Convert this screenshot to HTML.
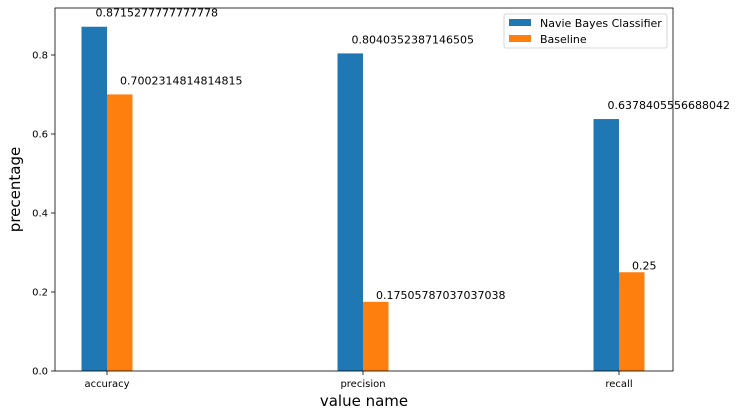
<!DOCTYPE html>
<html><head><meta charset="utf-8"><style>
html,body{margin:0;padding:0;background:#fff;}
svg{display:block;font-family:"DejaVu Sans","Liberation Sans",sans-serif;}
</style></head><body>
<svg id="chart" width="737" height="416"></svg>
<script>
const categories = ["accuracy","precision","recall"];
const nbValues = [0.8715277777777778,0.8040352387146505,0.6378405556688042];
const baseValues = [0.7002314814814815,0.17505787037037038,0.25];
const nbLabels = ["0.8715277777777778","0.8040352387146505","0.6378405556688042"];
const baseLabels = ["0.7002314814814815","0.17505787037037038","0.25"];
const yTicks = [0.0,0.2,0.4,0.6,0.8];
const yTickLabels = ["0.0","0.2","0.4","0.6","0.8"];

const NS="http://www.w3.org/2000/svg";
const svg=document.getElementById('chart');
const L=55,R=673,T=8,B=371;
const x=i=>107+i*256;
const y=v=>B-v*395;
const bw=25.5;
function mk(tag,attrs,parent){const e=document.createElementNS(NS,tag);for(const k in attrs)e.setAttribute(k,attrs[k]);(parent||svg).appendChild(e);return e;}

categories.forEach((c,i)=>{
  const b1=mk('rect',{x:x(i)-bw,y:y(nbValues[i]),width:bw,height:B-y(nbValues[i]),fill:'#1f77b4'});
  
  
  const b2=mk('rect',{x:x(i),y:y(baseValues[i]),width:bw,height:B-y(baseValues[i]),fill:'#ff7f0e'});
  
  
  const t1=mk('text',{x:x(i)-bw+14,y:y(nbValues[i])-10,'font-size':11,fill:'#000'});t1.textContent=nbLabels[i];
  
  
  const dy = i===0 ? 10 : 3;
  const t2=mk('text',{x:x(i)+13,y:y(baseValues[i])-dy,'font-size':11,fill:'#000'});t2.textContent=baseLabels[i];
  
  
  mk('line',{x1:x(i),x2:x(i),y1:B,y2:B+4,stroke:'#000','stroke-width':0.8});
  const xl=mk('text',{x:x(i),y:B+16,'font-size':10,'text-anchor':'middle'});xl.textContent=c;
  
  
});
yTicks.forEach((v,i)=>{
  mk('line',{x1:L-4,x2:L,y1:y(v),y2:y(v),stroke:'#000','stroke-width':0.8});
  const t=mk('text',{x:L-7,y:y(v)+3.5,'font-size':10,'text-anchor':'end'});t.textContent=yTickLabels[i];
  
  
});
const frame=mk('rect',{x:L,y:T,width:R-L,height:B-T,fill:'none',stroke:'#000','stroke-width':0.8});


const xt=mk('text',{x:(L+R)/2,y:406,'font-size':15,'text-anchor':'middle'});xt.textContent='value name';


const yt=mk('text',{x:20,y:(T+B)/2,'font-size':15,'text-anchor':'middle',transform:'rotate(-90 20 '+((T+B)/2)+')'});yt.textContent='precentage';


const lg=mk('g',{});


mk('rect',{x:504,y:14,width:163,height:34,rx:2,fill:'#fff',stroke:'#ccc','stroke-width':0.8},lg);
mk('rect',{x:509,y:19,width:22,height:7,fill:'#1f77b4'},lg);
mk('rect',{x:509,y:35,width:22,height:7,fill:'#ff7f0e'},lg);
const l1=mk('text',{x:540,y:27,'font-size':11},lg);l1.textContent='Navie Bayes Classifier';


const l2=mk('text',{x:540,y:43,'font-size':11},lg);l2.textContent='Baseline';


</script>
</body></html>
